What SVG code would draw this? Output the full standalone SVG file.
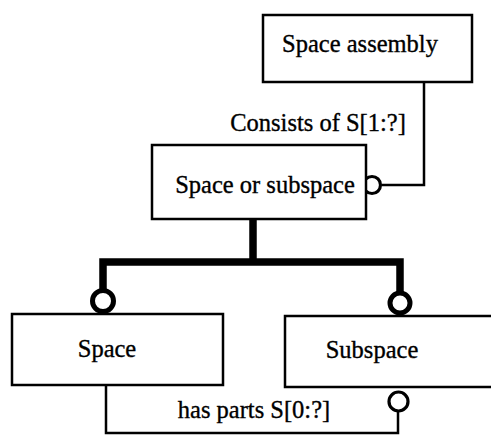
<svg xmlns="http://www.w3.org/2000/svg" width="491" height="437" viewBox="0 0 491 437">
<style>
.box{fill:#fff;stroke:#000;stroke-width:2.5}
.t{font-family:"Liberation Serif","Times New Roman",serif;font-size:24.5px;fill:#000;stroke:#000;stroke-width:0.35;text-anchor:middle}
.thin{fill:none;stroke:#000;stroke-width:2.5}
.thick{fill:none;stroke:#000;stroke-width:7.5}
.c{fill:#fff;stroke:#000;stroke-width:3.2}
.ct{fill:#fff;stroke:#000;stroke-width:5}
</style>
<rect width="491" height="437" fill="#fff"/>
<g id="connectors">
<polyline class="thin" points="424,82 424,185 382,185"/>
<text class="t" x="318" y="131">Consists of S[1:?]</text>
<polyline class="thick" points="253,219 253,262"/>
<polyline class="thick" points="103,290 103,262 400,262 400,292"/>
<polyline class="thin" points="106,385 106,433 398,433 398,412"/>
<text class="t" x="254" y="418">has parts S[0:?]</text>
<circle class="c" cx="372" cy="185" r="8.5"/>
<circle class="ct" cx="103" cy="301" r="10.5"/>
<circle class="ct" cx="400" cy="303" r="10"/>
<circle class="c" cx="398.5" cy="401.5" r="9.5"/>
</g>
<g id="space-assembly">
<rect class="box" x="263" y="15" width="209" height="67"/>
<text class="t" x="360" y="52">Space assembly</text>
</g>
<g id="space-or-subspace">
<rect class="box" x="152" y="145" width="214" height="74"/>
<text class="t" x="265" y="193">Space or subspace</text>
</g>
<g id="space">
<rect class="box" x="12" y="314" width="211" height="71"/>
<text class="t" x="107" y="357">Space</text>
</g>
<g id="subspace">
<rect class="box" x="285" y="316" width="210" height="71"/>
<text class="t" x="372" y="358">Subspace</text>
</g>
</svg>
